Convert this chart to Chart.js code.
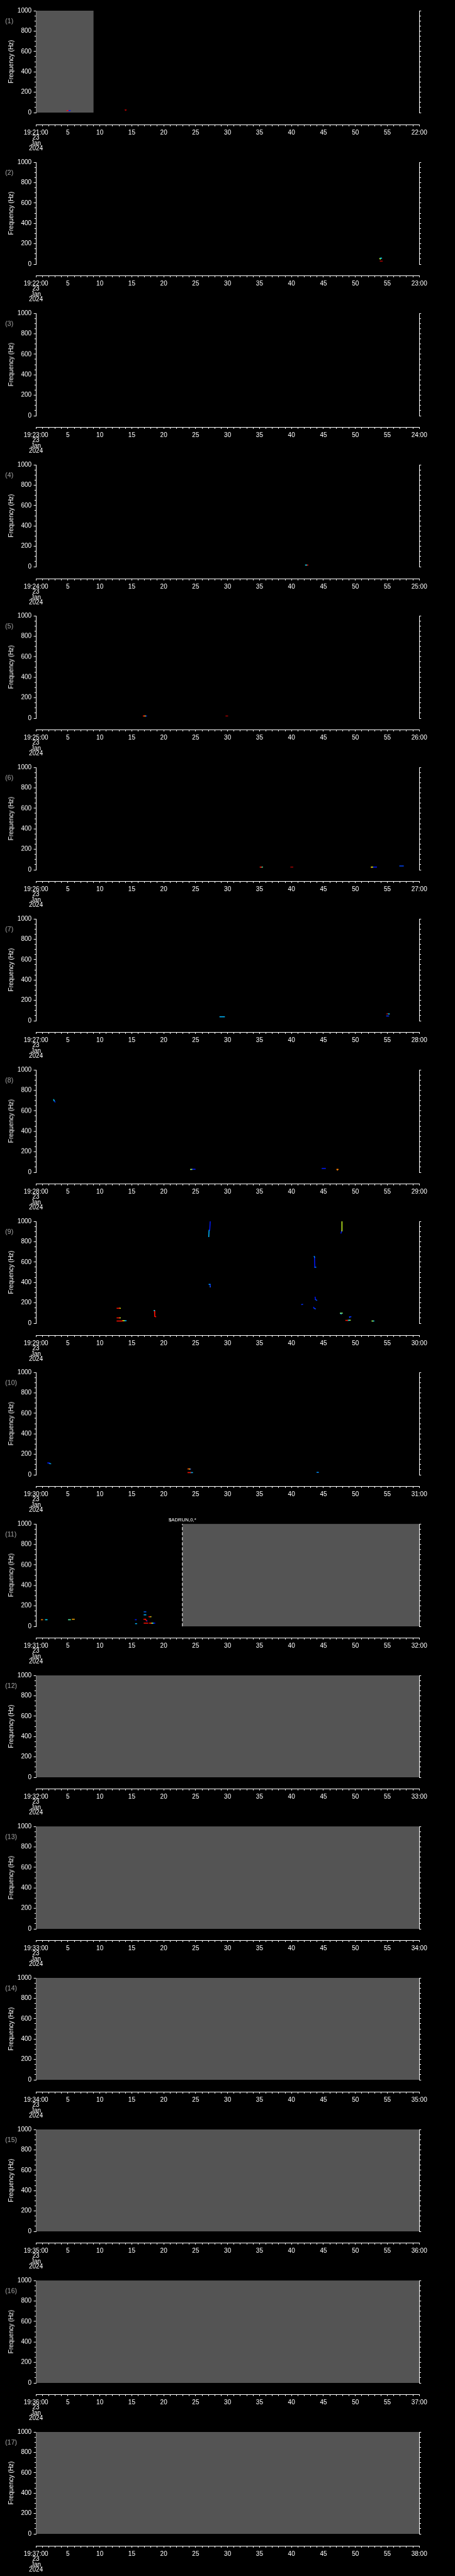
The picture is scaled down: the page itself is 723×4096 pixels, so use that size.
<!DOCTYPE html>
<html>
<head>
<meta charset="utf-8">
<script src="https://cdn.jsdelivr.net/npm/chart.js@4.4.1/dist/chart.umd.min.js"></script>
<style>
html,body{margin:0;padding:0;background:#000;}
body{width:723px;height:4096px;position:relative;overflow:hidden;}
.box{position:absolute;left:0;width:723px;}
</style>
</head>
<body>
<script>
// ---------------- DATA ----------------
const panelNumbers = [1,2,3,4,5,6,7,8,9,10,11,12,13,14,15,16,17];
const panelStartTimes = ['19:21:00','19:22:00','19:23:00','19:24:00','19:25:00','19:26:00','19:27:00','19:28:00','19:29:00','19:30:00','19:31:00','19:32:00','19:33:00','19:34:00','19:35:00','19:36:00','19:37:00'];
const panelEndTimes = ['22:00','23:00','24:00','25:00','26:00','27:00','28:00','29:00','30:00','31:00','32:00','33:00','34:00','35:00','36:00','37:00','38:00'];
const dateLines = ['23','Jan','2024'];
const secondTicks = [0,1,2,3,4,5,6,7,8,9,10,11,12,13,14,15,16,17,18,19,20,21,22,23,24,25,26,27,28,29,30,31,32,33,34,35,36,37,38,39,40,41,42,43,44,45,46,47,48,49,50,51,52,53,54,55,56,57,58,59,60];
const secondLabels = [0,5,10,15,20,25,30,35,40,45,50,55,60];
const freqTicks = [0,50,100,150,200,250,300,350,400,450,500,550,600,650,700,750,800,850,900,950,1000];
const freqLabels = [0,200,400,600,800,1000];
const freqTitle = 'Frequency (Hz)';

// spans (seconds) with no data, per panel
const noDataSpans = [[[0,9.03]],[],[],[],[],[],[],[],[],[],[[22.92,60]],[[0,60]],[[0,60]],[[0,60]],[[0,60]],[[0,60]],[[0,60]]];
// mode change markers
const modePanels = [11];
const modeTimes = [22.92];
const modeTexts = ['$ADRUN,0,*'];

// spectral marks: [t1 (s), f1 (Hz), t2 (s), f2 (Hz), power 0..1]
const marks01 = [[4.86,20,5.02,20,0.93],[5.02,20,5.35,20,0.05],[13.96,26,14.12,26,1.0],[14.04,26,14.04,21,1.0]];
const marks02 = [[53.9,59,54.1,59,0.4],[53.82,54,53.9,50,0.7],[53.9,29,54.2,29,1.0]];
const marks03 = [];
const marks04 = [[42.2,16,42.35,16,0.4],[42.35,16,42.55,16,0.93]];
const marks05 = [[16.8,21,16.95,21,0.93],[16.95,21,17.1,21,0.7],[17.1,21,17.3,21,0.1],[29.75,21,30.0,21,1.0]];
const marks06 = [[35.1,27,35.25,27,0.93],[35.25,27,35.45,27,0.5],[39.9,27,40.2,27,1.0],[52.5,27,52.7,27,0.7],[52.7,27,53.3,27,0.05],[52.5,27,52.5,22,1.0],[56.95,37,57.5,37,0.15]];
const marks07 = [[28.8,38,29.5,38,0.35],[54.9,67,55.05,67,1.0],[55.05,67,55.3,67,0.4],[54.9,47,55.2,47,0.1]];
const marks08 = [[2.77,708,2.85,700,0.4],[2.85,700,2.99,687,0.1],[24.2,28,24.4,28,0.6],[24.4,29,24.9,29,0.05],[44.8,37,45.3,37,0.05],[47.1,28,47.3,28,0.85],[47.2,28,47.2,22,0.85]];
const marks09 = [
  [27.28,1000,27.2,912,0.05],[27.1,912,27.05,850,0.35],
  [47.9,1000,47.9,906,0.66],[47.85,906,47.75,885,0.05],
  [43.55,655,43.6,651,0.3],[43.6,651,43.65,550,0.05],[43.65,550,43.8,550,0.3],
  [27.1,381,27.25,381,0.3],[27.25,381,27.3,357,0.1],[27.3,357,27.35,357,0.66],
  [43.7,256,43.75,235,0.05],[43.75,232,43.95,225,0.15],
  [41.6,183,41.75,185,0.1],
  [43.45,156,43.55,150,0.05],[43.55,145,43.75,141,0.15],
  [12.7,147,13.05,147,0.93],[13.05,147,13.2,147,0.7],
  [18.5,125,18.55,125,0.4],[18.55,125,18.6,68,0.93],[18.6,68,18.75,63,0.93],
  [12.7,52,13.05,52,0.93],[13.05,52,13.2,52,0.66],
  [12.7,22,13.55,22,0.93],[13.55,24,13.8,24,0.7],[13.8,25,14.1,25,0.35],
  [47.65,98,47.95,98,0.55],[47.7,95,47.75,92,0.3],
  [49.1,63,49.3,63,0.1],[49.1,63,49.1,55,0.1],
  [48.5,28,48.8,28,0.93],[48.8,28,49.0,28,0.4],[49.0,30,49.2,30,0.6],
  [52.6,22,52.75,22,0.6],[52.75,22,52.9,22,0.35]
];
const marks10 = [[1.85,116,2.1,116,0.05],[2.1,110,2.31,108,0.35],[23.8,57,24.0,58,0.88],[24.0,57,24.1,56,0.66],[24.1,56,24.2,56,0.05],[23.8,22,24.2,22,0.93],[24.2,22,24.5,22,0.35],[44.0,23,44.2,23,0.3]];
const marks11 = [[0.86,65,1.04,65,0.85],[1.5,65,1.74,65,0.4],[5.1,65,5.4,65,0.5],[5.7,70,6.0,70,0.8],[15.56,65,15.7,65,0.05],[15.6,26,15.75,26,0.35],[16.94,142,17.2,142,0.2],[16.94,113,17.2,113,0.35],[17.7,94,17.85,94,0.93],[17.85,94,18.0,94,0.66],[16.9,70,17.15,70,0.93],[17.15,70,17.3,55,0.93],[17.3,52,17.4,52,0.05],[16.94,31,17.5,31,0.93],[17.76,31,18.0,31,0.93],[18.0,31,18.2,31,0.66],[18.2,31,18.35,31,0.35],[18.35,31,18.6,31,0.05]];
const marks12 = [];
const marks13 = [];
const marks14 = [];
const marks15 = [];
const marks16 = [];
const marks17 = [];
const panelMarks = [marks01,marks02,marks03,marks04,marks05,marks06,marks07,marks08,marks09,marks10,marks11,marks12,marks13,marks14,marks15,marks16,marks17];

// colour table for power
const powerStops = [0,0.3,0.4,0.55,0.7,0.85,0.93,1.0];
const powerColors = [[0,0,255],[0,144,255],[0,224,255],[128,255,128],[230,255,0],[255,128,0],[255,16,0],[170,0,0]];

// ---------------- LAYOUT ----------------
const S = 0.705;
const W = 723;
const PLOT_LEFT = 81*S, PLOT_RIGHT = 945*S, PLOT_TOP0 = 24*S, PANEL_STEP = 341.3*S, PLOT_H = 232*S, AXIS_GAP = 24.4*S;
const PAD_T = 16, PAD_B = 8;
const TA_OFF = 10, TA_H = 70;
const FONT = "'Liberation Sans', Arial, sans-serif";
const WHITE = '#ffffff';

Chart.defaults.font.family = FONT;
Chart.defaults.animation = false;

function powerColor(p){
  for (let i=1;i<powerStops.length;i++){
    if (p <= powerStops[i]){
      const a = powerStops[i-1], b = powerStops[i];
      const f = (p-a)/(b-a);
      const c0 = powerColors[i-1], c1 = powerColors[i];
      const c = c0.map((v,k)=>Math.round(v+(c1[k]-v)*f));
      return 'rgb('+c.join(',')+')';
    }
  }
  return 'rgb('+powerColors[powerColors.length-1].join(',')+')';
}

const panelTextPlugin = {
  id: 'panelText',
  afterDraw(chart, args, opts){
    const ctx = chart.ctx, ca = chart.chartArea;
    ctx.save();
    ctx.font = '10.5px ' + FONT;
    ctx.fillStyle = '#a8a8a8';
    ctx.textAlign = 'left';
    ctx.textBaseline = 'middle';
    ctx.fillText('(' + opts.number + ')', 8.3, ca.top + 17.4);
    (opts.modes || []).forEach(m => {
      const x = chart.scales.x.getPixelForValue(m.t);
      ctx.font = '7.8px ' + FONT;
      ctx.fillStyle = WHITE;
      ctx.textAlign = 'center';
      ctx.textBaseline = 'middle';
      ctx.fillText(m.text, x, ca.top - 5.8);
    });
    ctx.restore();
  }
};

function makeBox(top, height){
  const div = document.createElement('div');
  div.className = 'box';
  div.style.top = top + 'px';
  div.style.height = height + 'px';
  const cv = document.createElement('canvas');
  div.appendChild(cv);
  document.body.appendChild(div);
  return cv;
}

const isMajorFreq = v => freqLabels.indexOf(v) >= 0;
const isMajorSec = v => secondLabels.indexOf(v) >= 0;

panelNumbers.forEach((num, i) => {
  const top = PLOT_TOP0 + i*PANEL_STEP;
  // ---- spectrogram panel ----
  const cv = makeBox(top - PAD_T, PLOT_H + PAD_T + PAD_B);
  const datasets = [];
  noDataSpans[i].forEach(sp => {
    datasets.push({data:[{x:sp[0],y:1000},{x:sp[1],y:1000}], showLine:true, fill:'start',
      backgroundColor:'#545454', borderColor:'rgba(0,0,0,0)', borderWidth:0, pointRadius:0, order:10});
  });
  panelMarks[i].forEach(m => {
    datasets.push({data:[{x:m[0],y:m[1]},{x:m[2],y:m[3]}], showLine:true, fill:false,
      borderColor:powerColor(m[4]), borderWidth:1.5, borderCapStyle:'square', pointRadius:0, order:1});
  });
  const modes = [];
  modePanels.forEach((p, k) => {
    if (p === num){
      modes.push({t:modeTimes[k], text:modeTexts[k]});
      datasets.push({data:[{x:modeTimes[k],y:0},{x:modeTimes[k],y:1000}], showLine:true, fill:false,
        borderColor:WHITE, borderWidth:1, borderDash:[5,3], pointRadius:0, order:0});
    }
  });
  new Chart(cv, {
    type:'scatter',
    data:{datasets},
    plugins:[panelTextPlugin],
    options:{
      responsive:true, maintainAspectRatio:false, animation:false, devicePixelRatio:1,
      layout:{padding:{left:0,right:0,top:PAD_T,bottom:PAD_B}},
      plugins:{legend:{display:false}, tooltip:{enabled:false}, panelText:{number:num, modes}},
      scales:{
        x:{type:'linear', display:false, min:0, max:60},
        y:{type:'linear', position:'left', min:0, max:1000,
          afterBuildTicks: s => { s.ticks = freqTicks.map(v => ({value:v})); },
          afterFit: s => { s.width = PLOT_LEFT; },
          ticks:{color:WHITE, font:{size:10}, padding:3.5, autoSkip:false,
            callback: v => isMajorFreq(v) ? String(v) : ''},
          grid:{drawOnChartArea:false, drawTicks:true, tickLength:3.5, tickColor:WHITE, tickWidth:1,
            tickBorderDash: c => (c.tick && !isMajorFreq(c.tick.value)) ? [0,1.2,2.3,100] : []},
          border:{display:true, color:WHITE, width:1},
          title:{display:true, text:freqTitle, color:WHITE, font:{size:10}, padding:{top:11.8,bottom:0}}
        },
        y2:{type:'linear', position:'right', min:0, max:1000,
          afterBuildTicks: s => { s.ticks = freqTicks.map(v => ({value:v})); },
          afterFit: s => { s.width = W - PLOT_RIGHT; },
          ticks:{display:false, autoSkip:false},
          grid:{drawOnChartArea:false, drawTicks:true, tickLength:3, tickColor:WHITE, tickWidth:1,
            tickBorderDash: c => (c.tick && !isMajorFreq(c.tick.value)) ? [2,100] : []},
          border:{display:true, color:WHITE, width:1}
        }
      }
    }
  });

  // ---- time axis ----
  const axisY = top + PLOT_H + AXIS_GAP;
  const tcv = makeBox(axisY - TA_OFF, TA_H);
  new Chart(tcv, {
    type:'scatter',
    data:{datasets:[]},
    options:{
      responsive:true, maintainAspectRatio:false, animation:false, devicePixelRatio:1,
      layout:{padding:{left:PLOT_LEFT, right:W-PLOT_RIGHT, top:0, bottom:0}},
      plugins:{legend:{display:false}, tooltip:{enabled:false}},
      scales:{
        x:{type:'linear', position:'bottom', min:0, max:60,
          afterBuildTicks: s => { s.ticks = secondTicks.map(v => ({value:v})); },
          afterFit: s => { s.height = TA_H - TA_OFF; },
          ticks:{color:WHITE, font:{size:10, lineHeight:0.846}, padding:6, autoSkip:false, maxRotation:0, minRotation:0,
            callback: v => {
              if (v === 0) return [panelStartTimes[i]].concat(dateLines);
              if (v === 60) return panelEndTimes[i];
              return isMajorSec(v) ? String(v) : '';
            }},
          grid:{drawOnChartArea:false, drawTicks:true, tickLength:3, tickColor:WHITE, tickWidth:1,
            tickBorderDash: c => (c.tick && !isMajorSec(c.tick.value)) ? [1.9,100] : []},
          border:{display:true, color:WHITE, width:1}
        },
        y:{display:false, min:0, max:1}
      }
    }
  });
});
</script>
</body>
</html>
